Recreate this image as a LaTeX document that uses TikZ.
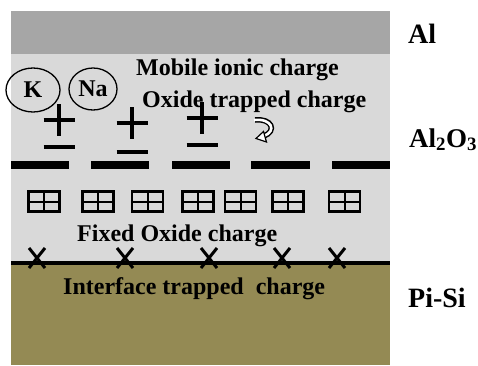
\documentclass[tikz,border=0pt]{standalone}
\usepackage{fontspec}
\setmainfont{Liberation Serif}
\usetikzlibrary{shapes.geometric}
\definecolor{metal}{HTML}{A6A6A6}
\definecolor{oxide}{HTML}{D9D9D9}
\definecolor{silicon}{HTML}{948A54}
\begin{document}
\begin{tikzpicture}[x=1pt,y=-1pt,
  lbl/.style={inner sep=0pt,anchor=base west,font=\fontsize{24}{28}\selectfont\bfseries},
  side/.style={inner sep=0pt,anchor=base west,font=\fontsize{28}{32}\selectfont\bfseries},
  ion/.style={draw,ellipse,line width=1.3pt,inner sep=0pt,font=\fontsize{24}{28}\selectfont\bfseries},
  trapbar/.style={line width=8pt},
  sign/.style={line width=4.5pt},
  fixbox/.style={draw,line width=2.5pt},
  cross/.style={line width=3pt}]
\useasboundingbox (0,0) rectangle (478,365);
% layers
\fill[metal] (11,11) rectangle (390,54);
\fill[oxide] (11,54) rectangle (390,263);
\fill[silicon] (11,263) rectangle (390,365);
\draw[line width=4pt] (11,263) -- (390,263);
% trap bars
\foreach \a/\b in {11/69, 91/149, 172/230, 251/310, 332/390}
  \draw[trapbar] (\a,165) -- (\b,165);
% plus / minus
\foreach \x/\y/\m in {59/120/147, 132/123/152, 202/118/145}{
  \draw[sign] (\x-15.5,\y) -- (\x+15.5,\y);
  \draw[sign] (\x,\y-16) -- (\x,\y+16);
  \draw[sign] (\x-15.5,\m) -- (\x+15.5,\m);
}
% ions
\node[ion,minimum width=54pt,minimum height=44pt] (k) at (33,90) {K};
\node[ion,minimum width=48pt,minimum height=42pt] (na) at (93,89) {Na};
% curly arrow
\draw[line width=5.5pt] (255,120) .. controls (272,118) and (277,131) .. (264,136);
\draw[line width=2.6pt,white] (254,120) .. controls (272,118) and (277,131) .. (264,136);
\draw[line width=1.2pt,fill=white,line join=miter] (256,138.5) -- (263.5,131.5) -- (266.5,142) -- cycle;
% fixed oxide charges
\foreach \c in {44, 98, 147.5, 198, 240.5, 288, 344.5}{
  \draw[fixbox] (\c-15.5,191.5) rectangle (\c+15.5,211.5);
  \draw[line width=2pt] (\c-15.5,201.5) -- (\c+15.5,201.5);
  \draw[line width=2pt] (\c,191.5) -- (\c,211.5);
}
% interface traps
\foreach \c in {37, 125, 209, 282, 337}{
  \draw[cross] (\c-8,248) -- (\c+8,268);
  \draw[cross] (\c+8,248) -- (\c-8,268);
}
% labels
\node[lbl] (mob) at (136,75) {Mobile ionic charge};
\node[lbl] (otc) at (142,107) {Oxide trapped charge};
\node[lbl] (foc) at (77,241) {Fixed Oxide charge};
\node[lbl] (itc) at (63,294) {Interface trapped\ \ charge};
\node[side] (al) at (408,43) {Al};
\node[side,font=\fontsize{27}{31}\selectfont\bfseries] (alo) at (409,147) {Al\textsubscript{2}O\textsubscript{3}};
\node[side] (si) at (408,307) {Pi-Si};
\end{tikzpicture}
\end{document}
